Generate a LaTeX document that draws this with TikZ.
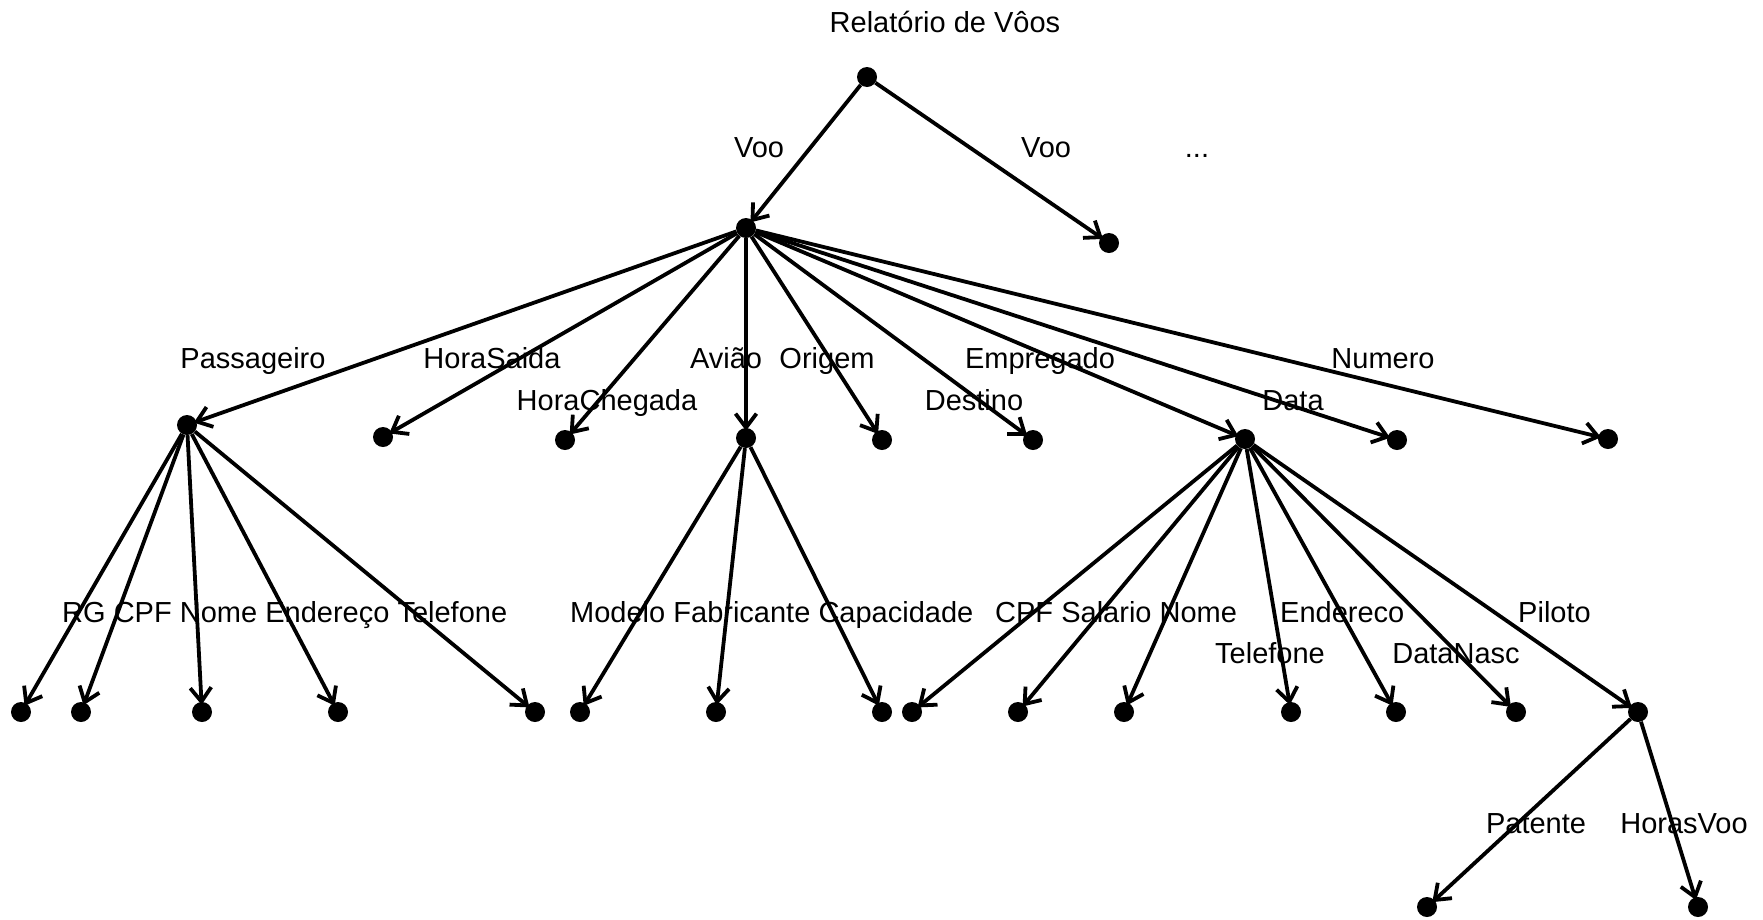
\documentclass[tikz,border=0pt]{standalone}
\usepackage{fontspec}
\setmainfont{Liberation Sans}
\usetikzlibrary{arrows.meta}
\tikzset{
  dot/.style={circle,fill=black,draw=none,inner sep=0pt,minimum size=20pt},
  lbl/.style={inner sep=0pt,anchor=base,font=\fontsize{29}{35}\selectfont},
  lblw/.style={inner sep=0pt,anchor=base west,font=\fontsize{29}{35}\selectfont},
  edge/.style={line width=3.8pt,shorten >=-3pt,-{Straight Barb[length=14pt,width=21pt,line width=3.8pt]}},
}
\begin{document}
\begin{tikzpicture}[x=1pt,y=-1pt]
\useasboundingbox (0,0) rectangle (1763,919);
% nodes
\node[dot] (root) at (867,77) {};
\node[dot] (voo) at (746,228) {};
\node[dot] (voo2) at (1109,243) {};
\node[dot] (pass) at (187,425) {};
\node[dot] (hsai) at (383,437) {};
\node[dot] (hche) at (565,440) {};
\node[dot] (aviao) at (746,438) {};
\node[dot] (orig) at (882,440) {};
\node[dot] (dest) at (1033,440) {};
\node[dot] (empr) at (1245,439) {};
\node[dot] (data) at (1397,440) {};
\node[dot] (num) at (1608,439) {};
\node[dot] (prg) at (21,712) {};
\node[dot] (pcpf) at (81,712) {};
\node[dot] (pnome) at (202,712) {};
\node[dot] (pend) at (338,712) {};
\node[dot] (ptel) at (535,712) {};
\node[dot] (amod) at (580,712) {};
\node[dot] (afab) at (716,712) {};
\node[dot] (acap) at (882,712) {};
\node[dot] (ecpf) at (912,712) {};
\node[dot] (esal) at (1018,712) {};
\node[dot] (enome) at (1124,712) {};
\node[dot] (etel) at (1291,712) {};
\node[dot] (eend) at (1396,712) {};
\node[dot] (edn) at (1516,712) {};
\node[dot] (pil) at (1638,712) {};
\node[dot] (pat) at (1427,907) {};
\node[dot] (hvoo) at (1698,907) {};
% labels
\node[lbl] (t0) at (945,32) {Relatório de Vôos};
\node[lbl] (l1) at (759,157) {Voo};
\node[lbl] (l2) at (1046,157) {Voo};
\node[lbl] (l3) at (1197,157) {...};
\node[lbl] (l4) at (253,368) {Passageiro};
\node[lbl] (l5) at (492,368) {HoraSaida};
\node[lbl] (l6) at (607,410) {HoraChegada};
\node[lbl] (l7) at (726,368) {Avião};
\node[lbl] (l8) at (827,368) {Origem};
\node[lbl] (l9) at (974,410) {Destino};
\node[lbl] (l10) at (1040,368) {Empregado};
\node[lbl] (l11) at (1293,410) {Data};
\node[lbl] (l12) at (1383,368) {Numero};
\node[lblw] (m1) at (62,622) {RG};
\node[lblw] (m2) at (113.6,622) {CPF};
\node[lblw] (m3) at (179.7,622) {Nome};
\node[lblw] (m4) at (265.1,622) {Endereço};
\node[lblw] (m5) at (397.3,622) {Telefone};
\node[lblw] (m6) at (570,622) {Modelo};
\node[lblw] (m7) at (673.2,622) {Fabricante};
\node[lblw] (m8) at (818.3,622) {Capacidade};
\node[lblw] (m9) at (995,622) {CPF};
\node[lblw] (m10) at (1061.1,622) {Salario};
\node[lblw] (m11) at (1159.4,622) {Nome};
\node[lblw] (m12) at (1280,622) {Endereco};
\node[lblw] (m13) at (1518,622) {Piloto};
\node[lbl] (m14) at (1270,663) {Telefone};
\node[lbl] (m15) at (1456,663) {DataNasc};
\node[lbl] (n1) at (1536,833) {Patente};
\node[lbl] (n2) at (1684,833) {HorasVoo};
% edges
\draw[edge] (root) -- (voo);
\draw[edge] (root) -- (voo2);
\foreach \c in {pass,hsai,hche,aviao,orig,dest,empr,data,num} \draw[edge] (voo) -- (\c);
\foreach \c in {prg,pcpf,pnome,pend,ptel} \draw[edge] (pass) -- (\c);
\foreach \c in {amod,afab,acap} \draw[edge] (aviao) -- (\c);
\foreach \c in {ecpf,esal,enome,etel,eend,edn,pil} \draw[edge] (empr) -- (\c);
\foreach \c in {pat,hvoo} \draw[edge] (pil) -- (\c);
\end{tikzpicture}
\end{document}
